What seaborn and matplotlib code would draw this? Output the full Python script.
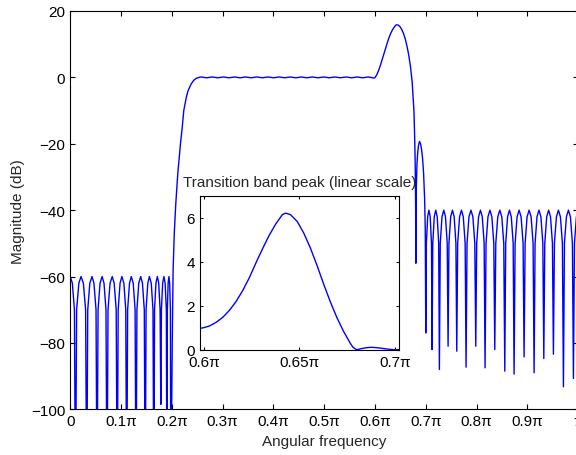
import numpy as np
import pandas as pd
import matplotlib
matplotlib.use("Agg")
import matplotlib.pyplot as plt
import seaborn as sns

# Angular frequency in units of pi, magnitude in dB
# lower stopband, ripples at -60 dB, nulls below the axis
stop1_w = [0.0000, 0.0042, 0.0083,
           0.0104, 0.0126, 0.0170, 0.0213, 0.0259, 0.0303,
           0.0325, 0.0345, 0.0386, 0.0429, 0.0467, 0.0508,
           0.0528, 0.0548, 0.0587, 0.0628, 0.0665, 0.0704,
           0.0724, 0.0744, 0.0784, 0.0827, 0.0865, 0.0905,
           0.0925, 0.0944, 0.0981, 0.1017, 0.1056, 0.1093,
           0.1112, 0.1130, 0.1167, 0.1202, 0.1240, 0.1277,
           0.1295, 0.1313, 0.1349, 0.1387, 0.1422, 0.1458,
           0.1476, 0.1493, 0.1527, 0.1559, 0.1595, 0.1629,
           0.1646, 0.1660, 0.1687, 0.1715, 0.1742, 0.1769,
           0.1783, 0.1795, 0.1819, 0.1845, 0.1868, 0.1892,
           0.1904, 0.1912, 0.1927, 0.1943, 0.1957, 0.1972,
           0.1980]
stop1_db = [-60, -62, -70,
            -130, -70, -62, -60, -62, -70,
            -130, -70, -62, -60, -62, -70,
            -130, -70, -62, -60, -62, -70,
            -130, -70, -62, -60, -62, -70,
            -130, -70, -62, -60, -62, -70,
            -130, -70, -62, -60, -62, -70,
            -130, -70, -62, -60, -62, -70,
            -130, -70, -62, -60, -62, -70,
            -130, -70, -62, -60, -62, -70,
            -98.5, -70, -62, -60, -62, -70,
            -130, -70, -62, -60, -62, -70,
            -130]

# first transition band
trans1_w = [0.2008, 0.2025, 0.2048, 0.2078, 0.2117, 0.2170, 0.2205,
            0.2235, 0.2285, 0.2320, 0.2380, 0.2430, 0.2480, 0.2525]
trans1_db = [-80, -58, -47, -38, -29, -20, -15,
             -10, -6, -4, -2, -0.9, -0.3, -0.05]

# passband, small ripple around 0 dB
pass_w = [0.2575, 0.2685, 0.2794, 0.2904, 0.3014, 0.3123, 0.3233, 0.3343,
          0.3452, 0.3562, 0.3672, 0.3781, 0.3891, 0.4001, 0.4110, 0.4220,
          0.4330, 0.4440, 0.4549, 0.4659, 0.4769, 0.4878, 0.4988, 0.5098,
          0.5207, 0.5317, 0.5427, 0.5536, 0.5646, 0.5756, 0.5865, 0.5975]
pass_db = [0.12, -0.12, 0.12, -0.12, 0.12, -0.12, 0.12, -0.12,
           0.12, -0.12, 0.12, -0.12, 0.12, -0.12, 0.12, -0.12,
           0.12, -0.12, 0.12, -0.12, 0.12, -0.12, 0.12, -0.12,
           0.12, -0.12, 0.12, -0.12, 0.12, -0.12, 0.12, -0.2]

# transition band peak and the small lobe after it
peak_w = [0.5995, 0.6030, 0.6064, 0.6099, 0.6134, 0.6168, 0.6203, 0.6238,
          0.6272, 0.6307, 0.6341, 0.6376, 0.6411, 0.6428, 0.6454, 0.6489,
          0.6523, 0.6558, 0.6593, 0.6627, 0.6662, 0.6696, 0.6731, 0.6766,
          0.6780, 0.6790, 0.6798, 0.6803, 0.6812, 0.6825, 0.6840, 0.6855,
          0.6874, 0.6895, 0.6915, 0.6935, 0.6955, 0.6975, 0.6988]
peak_db = [-0.09, 0.67, 1.87, 3.35, 5.06, 6.77, 8.56, 10.29,
           11.89, 13.22, 14.29, 15.13, 15.76, 15.86, 15.76, 15.31,
           14.49, 13.29, 11.64, 9.51, 6.77, 3.35, -1.51, -10.46,
           -18.4, -26, -38.4, -56, -33, -26, -22.5, -20.5,
           -19.3, -20, -21.7, -24.4, -28.9, -36.5, -46]

# upper stopband, ripples at -40 dB
stop2_w = [0.6998, 0.7010, 0.7035, 0.7060, 0.7085, 0.7110,
           0.7122, 0.7136, 0.7165, 0.7194, 0.7223, 0.7252,
           0.7266, 0.7283, 0.7317, 0.7352, 0.7386, 0.7420,
           0.7437, 0.7454, 0.7488, 0.7523, 0.7557, 0.7591,
           0.7608, 0.7626, 0.7663, 0.7700, 0.7736, 0.7773,
           0.7791, 0.7810, 0.7848, 0.7887, 0.7925, 0.7963,
           0.7982, 0.8000, 0.8037, 0.8074, 0.8110, 0.8147,
           0.8165, 0.8184, 0.8222, 0.8261, 0.8299, 0.8337,
           0.8356, 0.8376, 0.8415, 0.8455, 0.8494, 0.8533,
           0.8553, 0.8571, 0.8608, 0.8645, 0.8681, 0.8718,
           0.8736, 0.8756, 0.8795, 0.8835, 0.8874, 0.8913,
           0.8933, 0.8953, 0.8992, 0.9032, 0.9071, 0.9110,
           0.9130, 0.9149, 0.9187, 0.9226, 0.9264, 0.9302,
           0.9321, 0.9340, 0.9378, 0.9416, 0.9453, 0.9491,
           0.9510, 0.9530, 0.9569, 0.9609, 0.9648, 0.9687,
           0.9707, 0.9727, 0.9766, 0.9806, 0.9845, 0.9884,
           0.9904, 0.9924, 0.9963, 1.0000]
stop2_db = [-77, -50, -42, -40, -42, -50,
            -82, -50, -42, -40, -42, -50,
            -88, -50, -42, -40, -42, -50,
            -81, -50, -42, -40, -42, -50,
            -82.5, -50, -42, -40, -42, -50,
            -87.3, -50, -42, -40, -42, -50,
            -81, -50, -42, -40, -42, -50,
            -87.5, -50, -42, -40, -42, -50,
            -82, -50, -42, -40, -42, -50,
            -88.5, -50, -42, -40, -42, -50,
            -89.4, -50, -42, -40, -42, -50,
            -84.2, -50, -42, -40, -42, -50,
            -89, -50, -42, -40, -42, -50,
            -84.7, -50, -42, -40, -42, -50,
            -83.4, -50, -42, -40, -42, -50,
            -93.2, -50, -42, -40, -42, -50,
            -90.7, -50, -42, -40]

x_ticks = [0, 0.1, 0.2, 0.3, 0.4, 0.5, 0.6, 0.7, 0.8, 0.9, 1.0]
x_labels = ["0", "0.1\u03c0", "0.2\u03c0", "0.3\u03c0", "0.4\u03c0", "0.5\u03c0",
            "0.6\u03c0", "0.7\u03c0", "0.8\u03c0", "0.9\u03c0", "\u03c0"]
y_ticks = [-100, -80, -60, -40, -20, 0, 20]
inset_x_ticks = [0.6, 0.65, 0.7]
inset_x_labels = ["0.6\u03c0", "0.65\u03c0", "0.7\u03c0"]
inset_y_ticks = [0, 2, 4, 6]

sns.set_style("ticks")
plt.rcParams["font.family"] = ["Liberation Sans", "DejaVu Sans"]

w = np.array(stop1_w + trans1_w + pass_w + peak_w + stop2_w)
db = np.array(stop1_db + trans1_db + pass_db + peak_db + stop2_db)
df = pd.DataFrame({"w": w, "db": db, "lin": 10 ** (db / 20)})

fig = plt.figure(figsize=(5.76, 4.56), dpi=100)

# main axes (right edge runs just past the image, as in the reference)
ax = fig.add_axes([0.1219, 0.1002, 0.8821, 0.8735])
sns.lineplot(data=df, x="w", y="db", ax=ax, color="blue", lw=1.0,
             estimator=None, sort=False)
ax.set_xlim(0, 1)
ax.set_ylim(-100, 20)
ax.set_xticks(x_ticks)
ax.set_xticklabels(x_labels)
ax.set_yticks(y_ticks)
ax.set_xlabel("Angular frequency", fontsize=11)
ax.set_ylabel("Magnitude (dB)", fontsize=11)
ax.tick_params(direction="in", top=True, right=True, length=3.5, width=0.8,
               labelsize=11, colors="black")
for s in ax.spines.values():
    s.set_linewidth(0.8)
    s.set_color("black")

# inset: linear magnitude around the transition band peak
ins = fig.add_axes([0.3472, 0.2309, 0.345, 0.3377])
sub = df[(df.w > 0.59) & (df.w < 0.71)]
sns.lineplot(data=sub, x="w", y="lin", ax=ins, color="blue", lw=1.0,
             estimator=None, sort=False)
ins.set_xlim(0.598, 0.702)
ins.set_ylim(0, 7)
ins.set_xticks(inset_x_ticks)
ins.set_xticklabels(inset_x_labels)
ins.set_yticks(inset_y_ticks)
ins.set_xlabel("")
ins.set_ylabel("")
ins.set_title("Transition band peak (linear scale)", fontsize=11, pad=7)
ins.tick_params(direction="in", top=True, right=True, length=2.5, width=0.8,
                labelsize=11, colors="black")
for s in ins.spines.values():
    s.set_linewidth(0.8)
    s.set_color("black")
ins.set_facecolor("white")

fig.savefig("out.png", dpi=100)
